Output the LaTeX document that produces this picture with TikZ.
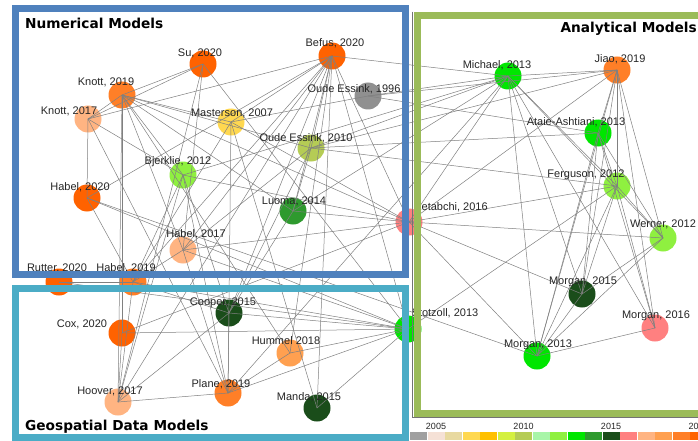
\documentclass[tikz,border=0pt]{standalone}
\usepackage{fontspec}
\setmainfont{Liberation Sans}
\newfontfamily\titlefont{DejaVu Sans}
\definecolor{cBlue}{HTML}{4F81BD}
\definecolor{cTeal}{HTML}{4BACC6}
\definecolor{cOlive}{HTML}{9BBB59}
\definecolor{yOld}{HTML}{A0A0A0}
\definecolor{y05}{HTML}{F5E1D6}
\definecolor{y06}{HTML}{E8D9A0}
\definecolor{y07}{HTML}{FFD850}
\definecolor{y08}{HTML}{FFC000}
\definecolor{y09}{HTML}{D4F040}
\definecolor{y10}{HTML}{B5CC55}
\definecolor{y11}{HTML}{A8F5A8}
\definecolor{y12}{HTML}{8FF040}
\definecolor{y13}{HTML}{00E600}
\definecolor{y14}{HTML}{2E9A2E}
\definecolor{y15}{HTML}{1A4D1A}
\definecolor{y16}{HTML}{FF8080}
\definecolor{y17}{HTML}{FFB482}
\definecolor{y18}{HTML}{FFA050}
\definecolor{y19}{HTML}{FF7F27}
\definecolor{y20}{HTML}{FF6200}
\definecolor{y96}{HTML}{909090}
\begin{document}
\begin{tikzpicture}[x=1pt,y=-1pt,
  pub/.style={circle,minimum size=27pt,inner sep=0pt,draw=none},
  lbl/.style={font=\fontsize{11}{12}\selectfont,anchor=base,inner sep=0pt,text=black!85},
  edge/.style={draw=black!50,line width=0.5pt},
  frame/.style={line width=7pt},
  ttl/.style={font=\titlefont\bfseries\fontsize{13.7}{15}\selectfont,anchor=base,inner sep=0pt},
  leg/.style={font=\fontsize{9}{10}\selectfont,anchor=base,inner sep=0pt,text=black!85}]
\useasboundingbox (0,0) rectangle (698,441);
\fill[white] (0,0) rectangle (698,441);
% publication nodes
\node[pub,fill=y20] (su) at (203,64) {};
\node[pub,fill=y19] (kn19) at (122,95) {};
\node[pub,fill=y17] (kn17) at (88,119) {};
\node[pub,fill=y07] (mast) at (231,122) {};
\node[pub,fill=y20] (bef) at (332,56) {};
\node[pub,fill=y96] (oe96) at (368,96) {};
\node[pub,fill=y10] (oe10) at (311,148) {};
\node[pub,fill=y12] (bjer) at (183,175) {};
\node[pub,fill=y20] (hab20) at (87,198) {};
\node[pub,fill=y14] (luo) at (293,211) {};
\node[pub,fill=y17] (hab17) at (183,250) {};
\node[pub,fill=y16] (ket) at (409,222) {};
\node[pub,fill=y20] (rut) at (59,282) {};
\node[pub,fill=y19] (hab19) at (133,282) {};
\node[pub,fill=y15] (coop) at (229,313) {};
\node[pub,fill=y20] (cox) at (122,333) {};
\node[pub,fill=y18] (hum) at (290,353) {};
\node[pub,fill=y19] (plane) at (228,393) {};
\node[pub,fill=y17] (hoov) at (118,402) {};
\node[pub,fill=y15] (manda) at (317,408) {};
\node[pub,fill=y13] (stot) at (408,329) {};
\node[pub,fill=y13] (mich) at (508,76) {};
\node[pub,fill=y19] (jiao) at (617,70) {};
\node[pub,fill=y13] (ataie) at (598,133) {};
\node[pub,fill=y12] (ferg) at (617,186) {};
\node[pub,fill=y12] (wern) at (663,238) {};
\node[pub,fill=y15] (mo15) at (582,294) {};
\node[pub,fill=y16] (mo16) at (655,328) {};
\node[pub,fill=y13] (mo13) at (537,356) {};
% connectors
\foreach \a/\b in {su/kn19,su/kn17,su/hoov,su/stot,su/hab17,
  kn19/kn17,kn19/cox,kn19/mast,kn19/oe10,kn19/bjer,kn19/hab17,kn19/luo,kn19/hum,kn19/ket,kn19/hoov,
  kn17/hab20,kn17/bef,kn17/bjer,kn17/plane,
  bef/mich,bef/hab20,bef/mast,bef/oe10,bef/luo,bef/hab17,bef/hum,bef/manda,bef/stot,bef/ket,bef/coop,bef/hoov,bef/hab19,
  oe96/mich,oe96/mast,oe96/ataie,oe96/jiao,
  oe10/mich,oe10/ataie,oe10/jiao,oe10/luo,oe10/hab17,oe10/coop,oe10/ferg,
  mast/plane,mast/ket,mast/hab19,mast/manda,
  bjer/hab19,bjer/hoov,bjer/coop,bjer/plane,bjer/mich,bjer/ket,
  hab20/hab19,hab20/stot,hab20/mo13,
  luo/ket,luo/mich,luo/coop,
  hab17/stot,hab17/plane,hab17/hab19,hab17/ket,
  ket/wern,ket/ferg,ket/mo15,ket/mich,ket/jiao,ket/mo13,ket/cox,
  rut/stot,rut/hab19,
  hab19/stot,hab19/hoov,hab19/coop,
  coop/stot,coop/plane,coop/hoov,
  cox/stot,cox/hoov,
  hum/stot,hum/plane,
  plane/stot,plane/hoov,
  manda/stot,stot/ferg,
  mich/jiao,mich/mo13,mich/mo15,mich/mo16,mich/wern,mich/ferg,mich/plane,
  jiao/ferg,jiao/wern,jiao/mo15,jiao/mo13,jiao/mo16,jiao/ataie,
  ataie/mo13,ataie/mo15,ataie/wern,ataie/ferg,ataie/mo16,
  ferg/wern,ferg/mo13,ferg/mo15,ferg/mo16,
  wern/mo13,wern/mo15,
  mo13/mo16,mo13/mo15}
  \draw[edge] (\a.center) -- (\b.center);
% labels
\node[lbl] (tsu) at (200,57) {Su, 2020};
\node[lbl] (tkn19) at (106,86) {Knott, 2019};
\node[lbl] (tkn17) at (69,114) {Knott, 2017};
\node[lbl] (tmast) at (232,117) {Masterson, 2007};
\node[lbl] (tbef) at (335,47) {Befus, 2020};
\node[lbl] (toe96) at (354,93) {Oude Essink, 1996};
\node[lbl] (toe10) at (306,141) {Oude Essink, 2010};
\node[lbl] (tbjer) at (178,164) {Bjerklie, 2012};
\node[lbl] (thab20) at (80,190) {Habel, 2020};
\node[lbl] (tluo) at (294,204) {Luoma, 2014};
\node[lbl] (thab17) at (196,237) {Habel, 2017};
\node[lbl] (tket) at (451,210) {Ketabchi, 2016};
\node[lbl] (trut) at (57,271) {Rutter, 2020};
\node[lbl] (thab19) at (126,271) {Habel, 2019};
\node[lbl] (tcoop) at (223,305) {Cooper, 2015};
\node[lbl] (tcox) at (82,327) {Cox, 2020};
\node[lbl] (thum) at (286,344) {Hummel 2018};
\node[lbl] (tplane) at (221,387) {Plane, 2019};
\node[lbl] (thoov) at (110,394) {Hoover, 2017};
\node[lbl] (tmanda) at (309,400) {Manda, 2015};
\node[lbl] (tstot) at (445,316) {Stotzoll, 2013};
\node[lbl] (tmich) at (497,69) {Michael, 2013};
\node[lbl] (tjiao) at (620,63) {Jiao, 2019};
\node[lbl] (tataie) at (576,125) {Ataie-Ashtiani, 2013};
\node[lbl] (tferg) at (586,177) {Ferguson, 2012};
\node[lbl] (twern) at (663,227) {Werner, 2012};
\node[lbl] (tmo15) at (583,284) {Morgan, 2015};
\node[lbl] (tmo16) at (656,318) {Morgan, 2016};
\node[lbl] (tmo13) at (538,347) {Morgan, 2013};
% group frames
\draw[black!55,line width=0.6pt] (412.6,11.6) -- (412.6,417.4) -- (705,417.4);
\draw[frame,cOlive] (417,15.5) rectangle (705,413.5);
\draw[frame,cBlue] (15.5,8.5) rectangle (405.5,274.5);
\draw[frame,cTeal] (15.5,288.5) rectangle (405.5,437.5);
\node[ttl,anchor=base west] (tnum) at (25,29) {Numerical Models};
\node[ttl,anchor=base east] (tana) at (697,33) {Analytical Models};
\node[ttl,anchor=base west] (tgeo) at (25,430) {Geospatial Data Models};
% year legend
\foreach \c [count=\i from 0] in {yOld,y05,y06,y07,y08,y09,y10,y11,y12,y13,y14,y15,y16,y17,y18,y19,y20}
  \fill[\c] ({410+17.5*\i},432) rectangle ({410+17.5*\i+17.1},440);
\node[leg] (l05) at (436,429) {2005};
\node[leg] (l10) at (523.5,429) {2010};
\node[leg] (l15) at (611,429) {2015};
\node[leg] (l20) at (698.5,429) {2020};
\end{tikzpicture}
\end{document}
